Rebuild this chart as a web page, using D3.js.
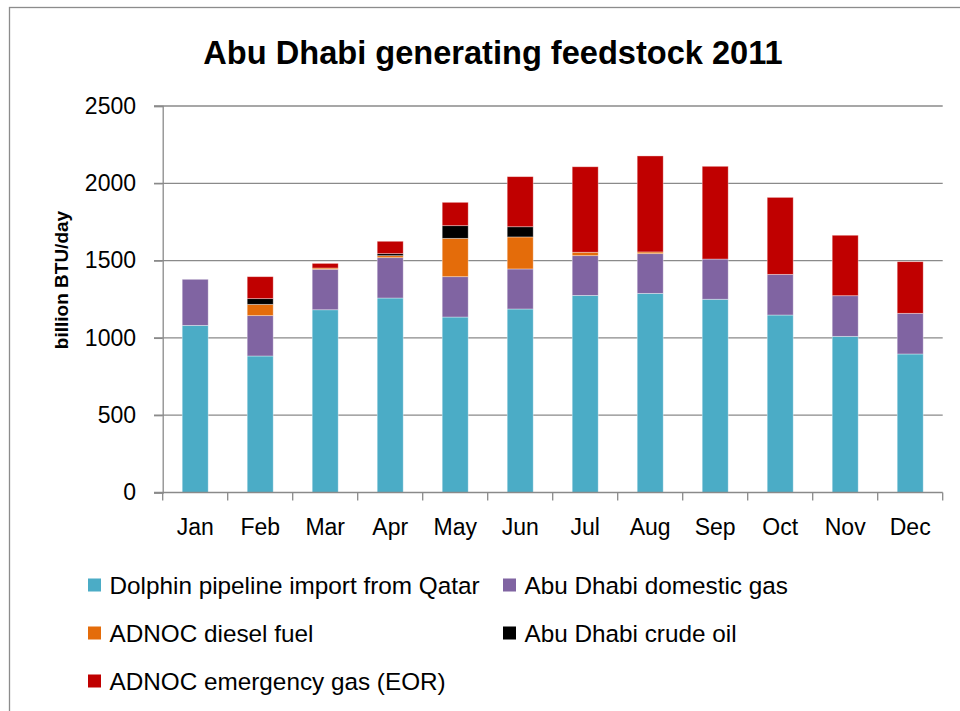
<!DOCTYPE html>
<html>
<head>
<meta charset="utf-8">
<script src="https://cdn.jsdelivr.net/npm/d3@7"></script>
<style>
  html, body { margin: 0; padding: 0; background: #fff; }
  svg { display: block; font-family: "Liberation Sans", Arial, sans-serif; }
</style>
</head>
<body>
<svg id="chart" width="960" height="711"></svg>
<script>
const months = ["Jan","Feb","Mar","Apr","May","Jun","Jul","Aug","Sep","Oct","Nov","Dec"];
const seriesNames = [
  "Dolphin pipeline import from Qatar",
  "Abu Dhabi domestic gas",
  "ADNOC diesel fuel",
  "Abu Dhabi crude oil",
  "ADNOC emergency gas (EOR)"
];
const dolphin  = [1081, 883, 1182, 1258, 1135, 1187, 1275, 1288, 1250, 1148, 1010, 896];
const domestic = [ 298, 261,  262,  261,  261,  259,  257,  257,  260,  263,  263, 263];
const diesel   = [   0,  73,    8,   13,  248,  207,   22,   11,    0,    0,    0,   0];
const crude    = [   0,  37,    0,   13,   82,   66,    0,    0,    0,    0,    0,   0];
const eor      = [   0, 142,   30,   80,  151,  324,  553,  621,  600,  498,  391, 334];
const yTicks = [0, 500, 1000, 1500, 2000, 2500];
const colors = ["#4BACC6", "#8064A2", "#E46C0A", "#000000", "#C00000"];
const titleText = "Abu Dhabi generating feedstock 2011";
const yTitle = "billion BTU/day";

const keys = ["dolphin","domestic","diesel","crude","eor"];
const table = months.map((m, i) => ({
  month: m, dolphin: dolphin[i], domestic: domestic[i], diesel: diesel[i], crude: crude[i], eor: eor[i]
}));

const svg = d3.select("#chart");

// outer chart border
svg.append("rect")
  .attr("x", 9.5).attr("y", 7.5).attr("width", 980).attr("height", 740)
  .attr("fill", "none").attr("stroke", "#8c8c8c").attr("stroke-width", 1.3);

const x = d3.scaleBand().domain(months).range([162.7, 942.7]).paddingInner(0.6).paddingOuter(0.3);
const y = d3.scaleLinear().domain([0, 2500]).range([492.5, 106]);

// gridlines
svg.append("g").selectAll("line").data(yTicks.filter(t => t > 0)).join("line")
  .attr("x1", 154).attr("x2", 942.7)
  .attr("y1", d => y(d)).attr("y2", d => y(d))
  .attr("stroke", "#8a8a8a").attr("stroke-width", 1.3);

// y axis
const yAxis = svg.append("g").attr("transform", "translate(162.7,0)")
  .call(d3.axisLeft(y).tickValues(yTicks).tickSize(8.7).tickPadding(18).tickFormat(d3.format("d")));
yAxis.select(".domain").attr("stroke", "#8a8a8a").attr("stroke-width", 1.3);
yAxis.selectAll(".tick line").attr("stroke", "#8a8a8a").attr("stroke-width", 1.3);
yAxis.selectAll(".tick text").attr("font-size", 23).attr("fill", "#000")
  .attr("font-family", "'Liberation Sans', Arial, sans-serif");

// stacked bars
const stack = d3.stack().keys(keys)(table);
svg.append("g").selectAll("g").data(stack).join("g")
  .attr("fill", (d, i) => colors[i])
  .selectAll("rect").data(d => d.filter(s => s[1] - s[0] > 0)).join("rect")
  .attr("x", d => x(d.data.month))
  .attr("width", x.bandwidth())
  .attr("y", d => y(d[1]))
  .attr("height", d => y(d[0]) - y(d[1]))
  .attr("stroke", "#ffffff").attr("stroke-opacity", 0.45).attr("stroke-width", 0.8);

// x axis
const xAxisG = svg.append("g").attr("transform", "translate(0,492.5)");
xAxisG.append("line").attr("x1", 154).attr("x2", 942.7).attr("y1", 0).attr("y2", 0)
  .attr("stroke", "#8a8a8a").attr("stroke-width", 1.3);
const bounds = d3.range(months.length + 1).map(i => 162.7 + i * x.step());
xAxisG.selectAll("line.tk").data(bounds).join("line").attr("class", "tk")
  .attr("x1", d => d).attr("x2", d => d).attr("y1", 0).attr("y2", 8)
  .attr("stroke", "#8a8a8a").attr("stroke-width", 1.3);
xAxisG.selectAll("text").data(months).join("text")
  .attr("x", d => x(d) + x.bandwidth() / 2)
  .attr("y", 42.5)
  .attr("text-anchor", "middle")
  .attr("font-size", 23)
  .text(d => d);

// title
svg.append("text").attr("x", 493).attr("y", 63.5)
  .attr("text-anchor", "middle").attr("font-weight", "bold").attr("font-size", 32.6)
  .text(titleText);

// y title
svg.append("text")
  .attr("transform", "translate(67.5,280) rotate(-90)")
  .attr("text-anchor", "middle").attr("font-weight", "bold").attr("font-size", 19)
  .text(yTitle);

// legend
const legendPos = [
  {x: 88, y: 585}, {x: 503, y: 585},
  {x: 88, y: 633}, {x: 503, y: 633},
  {x: 88, y: 681}
];
const lg = svg.append("g").selectAll("g").data(seriesNames).join("g")
  .attr("transform", (d, i) => `translate(${legendPos[i].x},${legendPos[i].y})`);
lg.append("rect").attr("x", 0).attr("y", -6.5).attr("width", 13).attr("height", 13)
  .attr("fill", (d, i) => colors[i]);
lg.append("text").attr("x", 21.5).attr("y", 8.5).attr("font-size", 24.3).text(d => d);
</script>
</body>
</html>
